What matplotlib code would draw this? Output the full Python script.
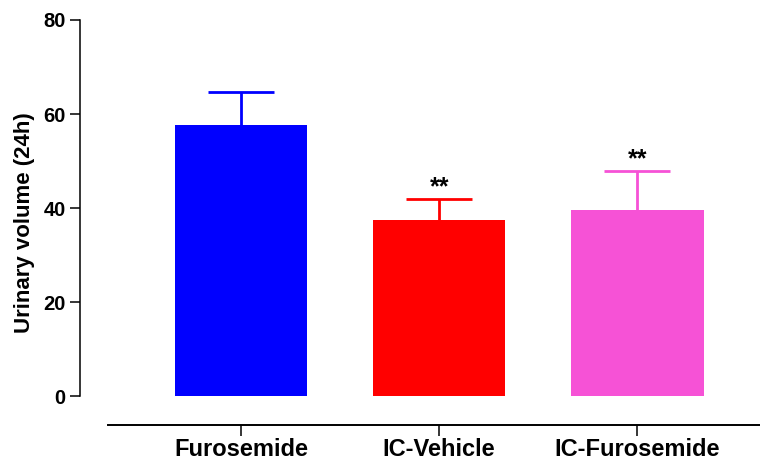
import matplotlib
matplotlib.use("Agg")
import matplotlib.pyplot as plt

groups = ["Furosemide", "IC-Vehicle", "IC-Furosemide"]
means  = [57.7, 37.4, 39.6]
sem    = [7.0, 4.5, 8.3]
stars  = ["", "**", "**"]
colors = ["#0000FF", "#FF0000", "#F652D6"]

plt.rcParams["font.family"] = ["Liberation Sans", "DejaVu Sans"]
plt.rcParams["font.weight"] = "bold"

fig = plt.figure(figsize=(7.6, 4.63), dpi=100)
ax = fig.add_axes([108/760, 38/463, 1 - 108/760, (425-20)/463])

x = list(range(len(groups)))
ax.bar(x, means, width=0.67, color=colors, zorder=2)
for i in x:
    _, caps, _ = ax.errorbar(i, means[i], yerr=[[0], [sem[i]]], color=colors[i], lw=2,
                             capsize=23.5, capthick=2, zorder=1)
    caps[0].set_visible(False)  # only the upper cap, like Prism
    if stars[i]:
        ax.text(i, means[i] + sem[i] + 2.4, stars[i], ha="center", va="center",
                fontsize=18, fontweight="bold")

ax.set_xlim(-0.672, 2.62)
ax.set_ylim(-6.17, 80)
ax.set_xticks(x)
ax.set_xticklabels(groups, fontsize=17, fontweight="bold")
ax.set_yticks([0, 20, 40, 60, 80])
ax.tick_params(axis="y", labelsize=14.5, length=7.5, width=1.1, pad=3)
ax.tick_params(axis="x", length=8, width=1.1, pad=1.5)

for s in ["top", "right"]:
    ax.spines[s].set_visible(False)
ax.spines["left"].set_position(("outward", 20))
ax.spines["left"].set_bounds(0, 80)
ax.spines["left"].set_linewidth(1.1)
ax.spines["bottom"].set_linewidth(1.4)

ax.set_ylabel("Urinary volume (24h)", fontsize=16, fontweight="bold", labelpad=6)

fig.savefig("out.png", dpi=100)
